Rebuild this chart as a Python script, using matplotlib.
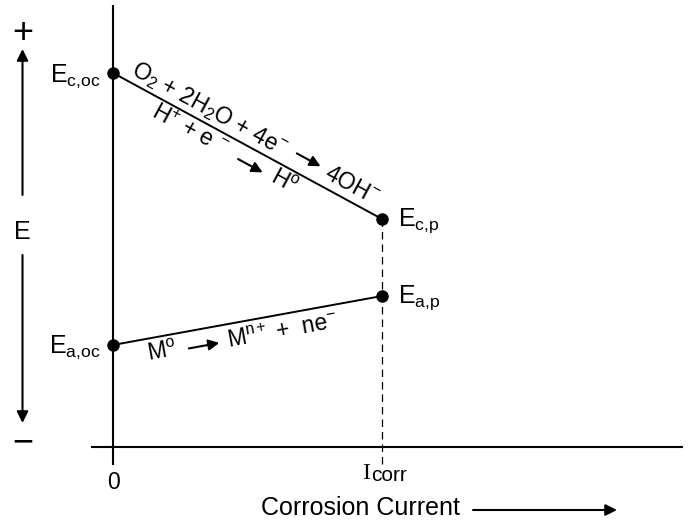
import numpy as np
import matplotlib.pyplot as plt

plt.rcParams['font.family'] = ['Liberation Sans', 'DejaVu Sans']
plt.rcParams['mathtext.fontset'] = 'custom'
plt.rcParams['mathtext.rm'] = 'Liberation Sans'
plt.rcParams['mathtext.it'] = 'Liberation Sans:italic'
plt.rcParams['mathtext.sf'] = 'Liberation Sans'

# schematic values (arbitrary units)
current = [0.0, 1.0]            # 0 and I_corr
E_cathodic = [1.375, 0.838]     # E_c,oc -> E_c,p
E_anodic = [0.375, 0.555]       # E_a,oc -> E_a,p
cathodic_labels = [r'E$_{\mathrm{c{,}oc}}$', r'E$_{\mathrm{c{,}p}}$']
anodic_labels = [r'E$_{\mathrm{a{,}oc}}$', r'E$_{\mathrm{a{,}p}}$']
x_ticks = [0.0, 1.0]
x_ticklabels = ['0', 'I', 'corr']

FS = 18      # labels
RS = 16.5    # reaction text

fig = plt.figure(figsize=(6.93, 5.21), dpi=100)
ax = fig.add_axes([0, 0, 1, 1])
ax.set_xlim(-0.420, 2.156)
ax.set_ylim(-0.272, 1.643)
ax.axis('off')

# axes lines
ax.plot([0, 0], [-0.066, 1.625], color='k', lw=1.5, solid_capstyle='butt')
ax.plot([-0.080, 2.119], [0, 0], color='k', lw=1.5, solid_capstyle='butt')

# polarization lines
ax.plot(current, E_cathodic, color='k', lw=1.4, marker='o', ms=8)
ax.plot(current, E_anodic, color='k', lw=1.4, marker='o', ms=8)
ax.plot([current[1], current[1]], [E_cathodic[1], -0.062], color='k',
        lw=0.9, ls=(0, (6, 4)))

# point labels
ax.annotate(cathodic_labels[0], (current[0], E_cathodic[0]), xytext=(-8.6, -6.2),
            textcoords='offset points', ha='right', va='baseline', fontsize=FS)
ax.annotate(anodic_labels[0], (current[0], E_anodic[0]), xytext=(-8.6, -5.6),
            textcoords='offset points', ha='right', va='baseline', fontsize=FS)
ax.annotate(cathodic_labels[1], (current[1], E_cathodic[1]), xytext=(11.5, -4.8),
            textcoords='offset points', ha='left', va='baseline', fontsize=FS)
ax.annotate(anodic_labels[1], (current[1], E_anodic[1]), xytext=(11.5, -4.8),
            textcoords='offset points', ha='left', va='baseline', fontsize=FS)

# tick labels
ax.annotate(x_ticklabels[0], (x_ticks[0], 0), xytext=(0.3, -30.2),
            textcoords='offset points', ha='center', va='baseline', fontsize=16.5)
ax.annotate(x_ticklabels[1], (x_ticks[1], 0), xytext=(-8.3, -23.0),
            textcoords='offset points', ha='right', va='baseline', fontsize=17.5,
            family='Liberation Serif')
ax.annotate(x_ticklabels[2], (x_ticks[1], 0), xytext=(-8.0, -24.5),
            textcoords='offset points', ha='left', va='baseline', fontsize=15)


def along(x, y, t, perp, text=None, arrow_to=None):
    p0 = ax.transData.transform((x[0], y[0]))
    p1 = ax.transData.transform((x[1], y[1]))
    d = p1 - p0
    u = d / np.hypot(*d)
    n = np.array([-u[1], u[0]])
    inv = ax.transData.inverted()
    if arrow_to is None:
        pos = inv.transform(p0 + u * t + n * perp)
        ang = np.degrees(np.arctan2(d[1], d[0]))
        ax.text(pos[0], pos[1], text, rotation=ang, rotation_mode='anchor',
                ha='center', va='center', fontsize=RS)
    else:
        a = inv.transform(p0 + u * t + n * perp)
        b = inv.transform(p0 + u * arrow_to + n * perp)
        ax.annotate('', xy=b, xytext=a,
                    arrowprops=dict(arrowstyle='-|>', color='k', lw=1.5,
                                    mutation_scale=16, shrinkA=0, shrinkB=0))


# cathodic reactions
along(current, E_cathodic, 102, 14, r'O$_2$ + 2H$_2$O + 4e$^{-}$')
along(current, E_cathodic, 200, 17, arrow_to=227)
along(current, E_cathodic, 263, 15, r'4OH$^{-}$')
along(current, E_cathodic, 95, -14, r'H$^{+}$ + e $^{-}$')
along(current, E_cathodic, 151, -16, arrow_to=179)
along(current, E_cathodic, 202, -14, r'H$^{\mathrm{o}}$')

# anodic reaction
along(current, E_anodic, 47, -16, r'M$^{\mathrm{o}}$')
along(current, E_anodic, 74, -17, arrow_to=105)
along(current, E_anodic, 169, -17, r'M$^{\mathrm{n+}}$ +  ne$^{-}$')

# E axis on the left
ft = fig.transFigure
W, H = 693.0, 521.0
ax.text(22.5 / W, 1 - 43.5 / H, '+', transform=ft, ha='center', va='baseline',
        fontsize=26)
ax.text(22.5 / W, 1 - 452 / H, '\u2212', transform=ft, ha='center',
        va='baseline', fontsize=26)
ax.text(22 / W, 1 - 239 / H, 'E', transform=ft, ha='center', va='baseline',
        fontsize=FS)
arr = dict(arrowstyle='-|>', color='k', lw=1.5, mutation_scale=17,
           shrinkA=0, shrinkB=0)
ax.annotate('', xy=(22.5 / W, 1 - 49 / H), xytext=(22.5 / W, 1 - 195 / H),
            xycoords=ft, textcoords=ft, arrowprops=arr)
ax.annotate('', xy=(22.5 / W, 1 - 423 / H), xytext=(22.5 / W, 1 - 255 / H),
            xycoords=ft, textcoords=ft, arrowprops=arr)

# x-axis title
ax.text(360 / W, 1 - 515 / H, 'Corrosion Current', transform=ft,
        ha='center', va='baseline', fontsize=FS)
ax.annotate('', xy=(617 / W, 1 - 510 / H), xytext=(473 / W, 1 - 510 / H),
            xycoords=ft, textcoords=ft, arrowprops=arr)

fig.savefig('out.png', dpi=100)
